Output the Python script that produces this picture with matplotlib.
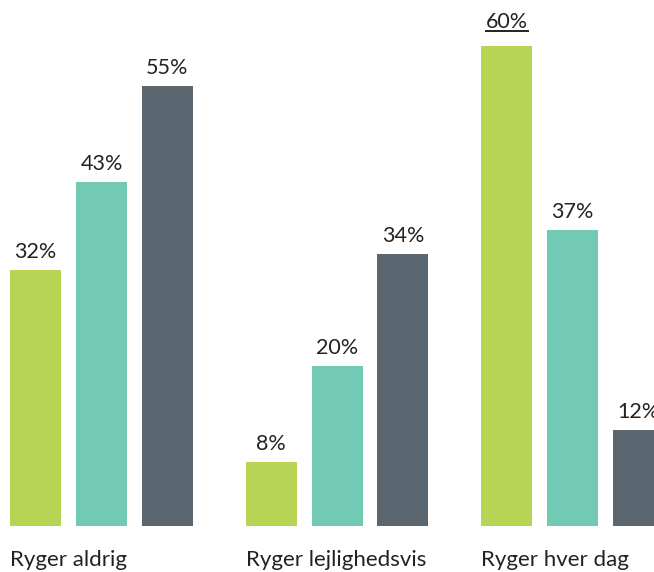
import matplotlib.pyplot as plt
from matplotlib.lines import Line2D

categories = ["Ryger aldrig", "Ryger lejlighedsvis", "Ryger hver dag"]
series_a = [32, 8, 60]
series_b = [43, 20, 37]
series_c = [55, 34, 12]
colors = ["#b8d454", "#72c9b4", "#5b6770"]

plt.rcParams["font.family"] = ["Lato", "DejaVu Sans"]

fig = plt.figure(figsize=(6.54, 5.72), dpi=100)
ax = fig.add_axes([0, 0, 1, 1])

width = 0.2166
offsets = [-0.28, 0.0, 0.28]
labels = {}
for k, (vals, col) in enumerate(zip([series_a, series_b, series_c], colors)):
    xs = [i + offsets[k] for i in range(len(categories))]
    bars = ax.bar(xs, vals, width=width, color=col)
    for j, (b, v) in enumerate(zip(bars, vals)):
        lift = 10 if (k, j) == (0, 2) else 6
        t = ax.annotate(f"{v}%", (b.get_x() + b.get_width() / 2, v),
                        xytext=(0, lift), textcoords="offset points",
                        ha="center", va="bottom", fontsize=15.5, color="#222222")
        labels[(k, j)] = t

for i, name in enumerate(categories):
    ax.text(i + offsets[0] - width / 2, -4.2, name, ha="left", va="center",
            fontsize=16, color="#222222")

ax.set_xlim(-0.431, 2.346)
ax.set_ylim(-5.75, 65.75)
ax.axis("off")

# underline the highest value label
fig.canvas.draw()
bb = labels[(0, 2)].get_window_extent()
W, H = fig.bbox.width, fig.bbox.height
yline = bb.y0 + 1
fig.add_artist(Line2D([bb.x0 / W, bb.x1 / W], [yline / H, yline / H],
                      transform=fig.transFigure, color="#222222", lw=1.4))

fig.savefig("out.png", dpi=100)
